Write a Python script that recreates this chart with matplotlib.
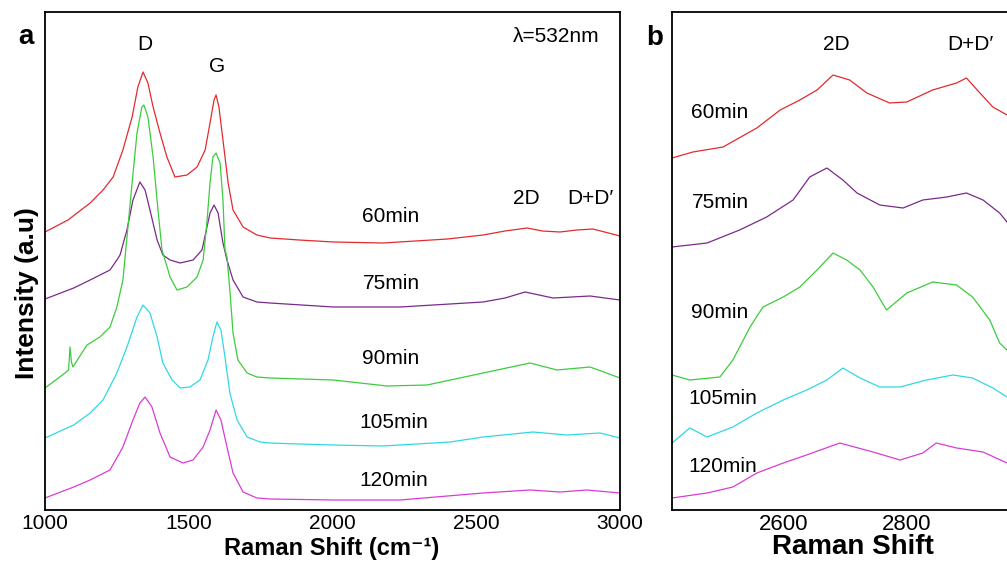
import matplotlib
matplotlib.use("Agg")
import matplotlib.pyplot as plt

plt.rcParams['font.family'] = ['Liberation Sans', 'DejaVu Sans']

# ---------------- Panel a data (Raman shift, intensity a.u., stacked) ----------------
a_red_x = [1000, 1080, 1157, 1202, 1237, 1271, 1303, 1323, 1341, 1358, 1376, 1400, 1424, 1452,
           1494, 1529, 1557, 1574, 1588, 1595, 1605, 1619, 1637, 1654, 1689, 1737, 1783, 1884,
           2003, 2176, 2400, 2524, 2600, 2677, 2730, 2791, 2850, 2906, 3000]
a_red_y = [278, 290, 307, 320, 333, 360, 393, 423, 438, 427, 403, 377, 353, 333,
           335, 343, 360, 387, 410, 415, 403, 370, 327, 300, 283, 275, 272, 270,
           268, 267, 271, 275, 279, 282, 279, 278, 280, 281, 274]

a_pur_x = [1000, 1100, 1157, 1226, 1250, 1261, 1285, 1306, 1330, 1348, 1365, 1390, 1410, 1435,
           1470, 1515, 1546, 1574, 1588, 1602, 1619, 1633, 1654, 1689, 1737, 1783, 2003, 2235,
           2524, 2600, 2670, 2767, 2896, 3000]
a_pur_y = [211, 222, 230, 240, 250, 255, 280, 310, 328, 320, 300, 270, 255, 250,
           247, 250, 260, 297, 305, 297, 267, 250, 230, 213, 208, 207, 203, 203,
           208, 212, 218, 212, 214, 210]

a_grn_x = [1000, 1070, 1082, 1087, 1092, 1097, 1146, 1191, 1226, 1250, 1271, 1303, 1320, 1337,
           1344, 1358, 1376, 1393, 1407, 1435, 1459, 1494, 1529, 1550, 1563, 1574, 1584, 1595,
           1609, 1619, 1626, 1633, 1643, 1654, 1671, 1703, 1737, 1783, 2003, 2190, 2329, 2524,
           2687, 2781, 2896, 3000]
a_grn_y = [122, 137, 140, 163, 148, 143, 165, 173, 183, 203, 230, 327, 377, 403,
           405, 393, 353, 300, 260, 233, 220, 223, 233, 250, 287, 327, 353, 357,
           347, 310, 260, 253, 220, 177, 150, 137, 133, 132, 130, 124, 125, 137,
           147, 140, 143, 132]

a_cyn_x = [1000, 1100, 1157, 1202, 1250, 1285, 1320, 1341, 1365, 1390, 1410, 1442, 1470, 1504,
           1539, 1567, 1584, 1598, 1612, 1626, 1643, 1668, 1703, 1748, 1783, 1884, 2003, 2176,
           2409, 2524, 2697, 2816, 2930, 3000]
a_cyn_y = [72, 85, 97, 110, 137, 163, 193, 205, 197, 173, 147, 130, 122, 123,
           130, 150, 173, 188, 180, 153, 117, 90, 73, 68, 67, 66, 65, 64,
           68, 73, 78, 75, 77, 72]

a_mag_x = [1000, 1100, 1157, 1226, 1271, 1306, 1330, 1348, 1372, 1400, 1435, 1480, 1515, 1550,
           1574, 1595, 1612, 1633, 1654, 1689, 1737, 1783, 2003, 2235, 2524, 2687, 2791, 2885,
           3000]
a_mag_y = [12, 23, 30, 40, 63, 90, 107, 113, 103, 77, 53, 47, 50, 63,
           80, 100, 90, 63, 37, 18, 12, 11, 10, 10, 17, 20, 18, 20,
           17]

# ---------------- Panel b data (zoom on 2D / D+D' region) ----------------
b_red_x = [2418, 2452, 2501, 2556, 2594, 2626, 2654, 2680, 2707, 2735, 2772, 2800, 2842, 2881,
           2897, 2919, 2940, 2963]
b_red_y = [352, 358, 363, 382, 400, 410, 420, 435, 430, 417, 407, 408, 420, 427,
           432, 417, 403, 395]

b_pur_x = [2418, 2475, 2528, 2572, 2615, 2642, 2670, 2696, 2719, 2756, 2794, 2826, 2865, 2897,
           2924, 2951, 2963]
b_pur_y = [263, 267, 280, 293, 310, 333, 342, 330, 317, 305, 302, 310, 313, 317,
           310, 297, 288]

b_grn_x = [2418, 2447, 2496, 2517, 2545, 2566, 2599, 2626, 2654, 2680, 2702, 2724, 2745, 2767,
           2800, 2842, 2881, 2907, 2935, 2951, 2963]
b_grn_y = [135, 130, 133, 150, 183, 203, 213, 223, 240, 257, 250, 240, 223, 200,
           217, 228, 225, 213, 190, 167, 160]

b_cyn_x = [2418, 2447, 2475, 2517, 2556, 2599, 2637, 2670, 2696, 2724, 2756, 2789, 2832, 2875,
           2907, 2940, 2963]
b_cyn_y = [67, 82, 73, 83, 97, 110, 120, 130, 142, 132, 123, 123, 130, 135,
           132, 122, 113]

b_mag_x = [2418, 2475, 2517, 2556, 2599, 2637, 2691, 2745, 2789, 2826, 2848, 2881, 2924, 2963]
b_mag_y = [12, 17, 23, 37, 47, 55, 67, 58, 50, 57, 67, 62, 58, 47]

colors = {'red': '#e32a2e', 'pur': '#7a2a8a', 'grn': '#3ccc3c', 'cyn': '#30d8e4', 'mag': '#d83cd6'}

a_series = [(a_red_x, a_red_y, 'red'), (a_pur_x, a_pur_y, 'pur'), (a_grn_x, a_grn_y, 'grn'),
            (a_cyn_x, a_cyn_y, 'cyn'), (a_mag_x, a_mag_y, 'mag')]
b_series = [(b_red_x, b_red_y, 'red'), (b_pur_x, b_pur_y, 'pur'), (b_grn_x, b_grn_y, 'grn'),
            (b_cyn_x, b_cyn_y, 'cyn'), (b_mag_x, b_mag_y, 'mag')]

a_labels = ['60min', '75min', '90min', '105min', '120min']
a_label_pos = [(391, 216), (391, 283), (391, 358), (394, 422), (394, 480)]
b_label_pos = [(720, 112), (720, 203), (720, 313), (723, 398), (723, 466)]

W, H = 1007, 561
fig = plt.figure(figsize=(W / 100, H / 100), dpi=100)


def fx(px):
    return px / W


def fy(py):
    return 1 - py / H


def ftext(px, py, s, **kw):
    fig.text(fx(px), fy(py), s, ha=kw.pop('ha', 'center'), va=kw.pop('va', 'center'), **kw)


axa = fig.add_axes([fx(45), fy(510), (620 - 45) / W, (510 - 12) / H])
for xs, ys, c in a_series:
    axa.plot(xs, ys, color=colors[c], lw=0.9)
axa.set_xlim(1000, 3000)
axa.set_ylim(0, 498)
axa.set_xticks([1000, 1500, 2000, 2500, 3000])
axa.set_yticks([])
axa.tick_params(axis='x', length=0, pad=3, labelsize=15)

axb = fig.add_axes([fx(672), fy(510), (W - 672) / W, (510 - 12) / H])
for xs, ys, c in b_series:
    axb.plot(xs, ys, color=colors[c], lw=0.9)
axb.set_xlim(2418, 2963)
axb.set_ylim(0, 498)
axb.set_xticks([2600, 2800])
axb.set_yticks([])
axb.tick_params(axis='x', length=0, pad=3, labelsize=16)
axb.spines['right'].set_visible(False)

for ax in (axa, axb):
    for sp in ax.spines.values():
        sp.set_linewidth(1.3)
        sp.set_color('black')

# panel a texts
ftext(26, 37, 'a', fontsize=20, fontweight='bold')
ftext(145, 45, 'D', fontsize=15)
ftext(217, 67, 'G', fontsize=15)
ftext(556, 36, 'λ=532nm', fontsize=15)
ftext(526, 198, '2D', fontsize=15)
ftext(590, 198, "D+D′", fontsize=15)
for lab, (px, py) in zip(a_labels, a_label_pos):
    ftext(px, py, lab, fontsize=15)
ftext(332, 548, 'Raman Shift (cm⁻¹)', fontsize=17, fontweight='bold')
ftext(27, 293, 'Intensity (a.u)', fontsize=19, fontweight='bold', rotation=90)

# panel b texts
ftext(655, 38, 'b', fontsize=20, fontweight='bold')
ftext(836, 45, '2D', fontsize=15)
ftext(970, 45, "D+D′", fontsize=15)
for lab, (px, py) in zip(a_labels, b_label_pos):
    ftext(px, py, lab, fontsize=15)
ftext(853, 547, 'Raman Shift', fontsize=20, fontweight='bold')

fig.savefig('out.png', dpi=100)
